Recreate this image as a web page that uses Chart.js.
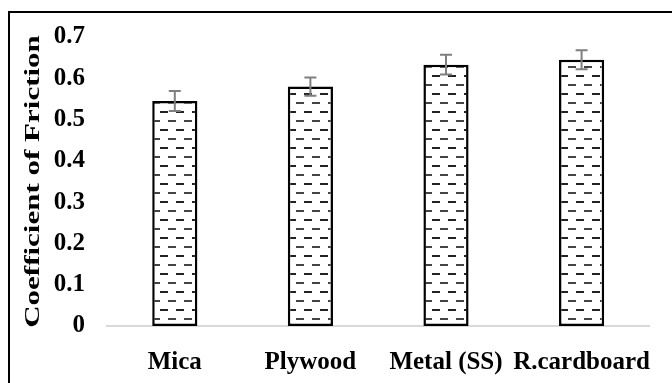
<!DOCTYPE html>
<html>
<head>
<meta charset="utf-8">
<script src="https://cdn.jsdelivr.net/npm/chart.js@4.4.1/dist/chart.umd.min.js"></script>
<style>
  html, body { margin: 0; padding: 0; background: #fff; overflow: hidden; }
  #wrap { position: relative; width: 672px; height: 383px; }
  #frame { position: absolute; left: 8px; top: 11px; width: 700px; height: 400px;
           border-left: 2px solid #000; border-top: 2px solid #000; pointer-events: none; }
</style>
</head>
<body>
<div id="wrap">
  <canvas id="myChart"></canvas>
  <div id="frame"></div>
</div>
<script>
var categories = ["Mica", "Plywood", "Metal (SS)", "R.cardboard"];
var cofValues = [0.545, 0.58, 0.633, 0.645];
var cofErrors = [0.024, 0.022, 0.024, 0.023];
var yTickLabels = ["0", "0.1", "0.2", "0.3", "0.4", "0.5", "0.6", "0.7"];
var yTitle = "Coefficient of Friction";

// dashed horizontal fill like the excel pattern
function makePattern() {
  var c = document.createElement('canvas');
  c.width = 16;
  c.height = 18;
  var p = c.getContext('2d');
  p.fillStyle = '#fff';
  p.fillRect(0, 0, 16, 18);
  p.fillStyle = '#222';
  p.fillRect(0, 3, 8, 2);
  p.fillStyle = '#444';
  p.fillRect(8, 12, 8, 2);
  return p.createPattern(c, 'repeat');
}

var errorBars = {
  id: 'errorBars',
  afterDatasetsDraw: function (chart) {
    var ctx = chart.ctx;
    var meta = chart.getDatasetMeta(0);
    var y = chart.scales.y;
    ctx.save();
    ctx.strokeStyle = '#7f7f7f';
    ctx.lineWidth = 2;
    meta.data.forEach(function (bar, i) {
      var top = y.getPixelForValue(cofValues[i] + cofErrors[i]);
      var bot = y.getPixelForValue(cofValues[i] - cofErrors[i]);
      ctx.beginPath();
      ctx.moveTo(bar.x, top); ctx.lineTo(bar.x, bot);
      ctx.moveTo(bar.x - 6, top); ctx.lineTo(bar.x + 6, top);
      ctx.moveTo(bar.x - 6, bot); ctx.lineTo(bar.x + 6, bot);
      ctx.stroke();
    });
    ctx.restore();
  }
};

var axisTitle = {
  id: 'axisTitle',
  afterDraw: function (chart) {
    var ctx = chart.ctx;
    var a = chart.chartArea;
    ctx.save();
    ctx.translate(39, (a.top + a.bottom) / 2);
    ctx.rotate(-Math.PI / 2);
    ctx.scale(1.55, 1);
    ctx.font = 'bold 20px "Liberation Serif"';
    ctx.fillStyle = '#000';
    ctx.textAlign = 'center';
    ctx.textBaseline = 'alphabetic';
    ctx.fillText(yTitle, 0, 0);
    ctx.restore();
  }
};

new Chart("myChart", {
  type: "bar",
  data: {
    labels: categories,
    datasets: [{
      data: cofValues,
      backgroundColor: makePattern(),
      borderColor: '#000',
      borderWidth: 2.5,
      borderSkipped: false,
      barPercentage: 0.333,
      categoryPercentage: 1
    }]
  },
  options: {
    responsive: true,
    maintainAspectRatio: false,
    animation: false,
    layout: { padding: { top: 32, left: 0, right: 0, bottom: 0 } },
    plugins: {
      legend: { display: false },
      tooltip: { enabled: false }
    },
    scales: {
      x: {
        grid: { display: false, drawTicks: false },
        border: { display: true, color: '#d9d9d9', width: 2 },
        ticks: {
          color: '#000',
          padding: 22,
          maxRotation: 0,
          autoSkip: false,
          font: { family: 'Liberation Serif', size: 25, weight: 'bold' }
        },
        afterFit: function (s) { s.height = 57; }
      },
      y: {
        min: 0,
        max: 0.7,
        grid: { display: false, drawTicks: false },
        border: { display: false },
        ticks: {
          stepSize: 0.1,
          color: '#000',
          padding: 22,
          font: { family: 'Liberation Serif', size: 25, weight: 'bold' },
          callback: function (v, i) { return yTickLabels[i]; }
        },
        afterFit: function (s) { s.width = 107; }
      }
    }
  },
  plugins: [errorBars, axisTitle]
});
</script>
</body>
</html>
